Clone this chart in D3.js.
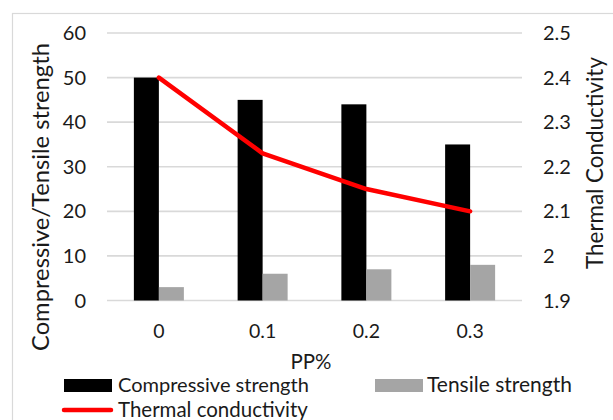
<!DOCTYPE html>
<html>
<head>
<meta charset="utf-8">
<script src="https://cdn.jsdelivr.net/npm/d3@7"></script>
<style>
  html, body { margin: 0; padding: 0; background: #fff; }
  svg { display: block; font-family: Lato, "Liberation Sans", sans-serif; }
</style>
</head>
<body>
<svg id="chart" width="613" height="420"></svg>
<script>
// PP content and measured properties
const categories = ["0", "0.1", "0.2", "0.3"];
const compressive = [50, 45, 44, 35];
const tensile = [3, 6, 7, 8];
const thermal = [2.4, 2.23, 2.15, 2.1];
const leftTicks = [0, 10, 20, 30, 40, 50, 60];
const rightTicks = [1.9, 2.0, 2.1, 2.2, 2.3, 2.4, 2.5];
const rightTickLabels = ["1.9", "2", "2.1", "2.2", "2.3", "2.4", "2.5"];

const svg = d3.select("#chart");
const tickSize = 20;
const textColor = "#1a1a1a";
const gridColor = "#d9d9d9";

// scale a text element's font so it spans the given width
function fitWidth(sel, width) {
  const base = 20;
  sel.attr("font-size", base);
  const w = sel.node().getComputedTextLength();
  if (w > 0) sel.attr("font-size", base * width / w);
  return sel;
}

// outer chart frame
svg.append("rect")
  .attr("x", 12.5).attr("y", 13.5)
  .attr("width", 700).attr("height", 500)
  .attr("fill", "none").attr("stroke", gridColor).attr("stroke-width", 1.2);

const plot = { left: 107, right: 522, top: 33, bottom: 300.5 };

const x = d3.scaleBand().domain(categories).range([plot.left, plot.right]).padding(0);
const yL = d3.scaleLinear().domain([0, 60]).range([plot.bottom, plot.top]);
const yR = d3.scaleLinear().domain([1.9, 2.5]).range([plot.bottom, plot.top]);
const barW = 25;

// horizontal gridlines
svg.append("g").selectAll("line").data(leftTicks).join("line")
  .attr("x1", plot.left).attr("x2", plot.right)
  .attr("y1", d => yL(d)).attr("y2", d => yL(d))
  .attr("stroke", gridColor).attr("stroke-width", 1.6);

// left axis labels
const leftAxis = d3.axisLeft(yL).tickValues(leftTicks).tickSize(0).tickPadding(0).tickFormat(d3.format("d"));
const gL = svg.append("g").attr("transform", "translate(86,0)").call(leftAxis);
gL.select(".domain").remove();
gL.selectAll("text").attr("font-size", tickSize).attr("font-family", "Lato").attr("fill", textColor).attr("dy", "0.33em");

// right axis labels
const rightAxis = d3.axisRight(yR).tickValues(rightTicks).tickSize(0).tickPadding(0)
  .tickFormat((d, i) => rightTickLabels[i]);
const gR = svg.append("g").attr("transform", "translate(543,0)").call(rightAxis);
gR.select(".domain").remove();
gR.selectAll("text").attr("font-size", tickSize).attr("font-family", "Lato").attr("fill", textColor).attr("dy", "0.33em");

// category labels
const bottomAxis = d3.axisBottom(x).tickSize(0).tickPadding(0);
const gB = svg.append("g").attr("transform", "translate(0,338)").call(bottomAxis);
gB.select(".domain").remove();
gB.selectAll("text").attr("font-size", 19.5).attr("font-family", "Lato").attr("fill", textColor)
  .attr("y", 0).attr("dy", "0");

// compressive bars
svg.append("g").selectAll("rect").data(compressive).join("rect")
  .attr("x", (d, i) => x(categories[i]) + x.bandwidth() / 2 - barW)
  .attr("y", d => yL(d))
  .attr("width", barW)
  .attr("height", d => yL(0) - yL(d))
  .attr("fill", "#000");

// tensile bars
svg.append("g").selectAll("rect").data(tensile).join("rect")
  .attr("x", (d, i) => x(categories[i]) + x.bandwidth() / 2)
  .attr("y", d => yL(d))
  .attr("width", barW)
  .attr("height", d => yL(0) - yL(d))
  .attr("fill", "#a5a5a5");

// thermal conductivity line on the secondary axis
const line = d3.line()
  .x((d, i) => x(categories[i]) + x.bandwidth() / 2)
  .y(d => yR(d));
svg.append("path").datum(thermal)
  .attr("d", line)
  .attr("fill", "none").attr("stroke", "#ff0000").attr("stroke-width", 4.5)
  .attr("stroke-linecap", "round").attr("stroke-linejoin", "round");

// axis titles
fitWidth(svg.append("text")
  .attr("transform", "translate(49,197) rotate(-90)")
  .attr("text-anchor", "middle")
  .attr("fill", textColor)
  .text("Compressive/Tensile strength"), 308);
fitWidth(svg.append("text")
  .attr("transform", "translate(603,163) rotate(-90)")
  .attr("text-anchor", "middle")
  .attr("fill", textColor)
  .text("Thermal Conductivity"), 212);
fitWidth(svg.append("text")
  .attr("x", 311).attr("y", 369)
  .attr("text-anchor", "middle")
  .attr("fill", textColor)
  .text("PP%"), 41);

// legend
const legend = svg.append("g");
legend.append("rect").attr("x", 64).attr("y", 379).attr("width", 48).attr("height", 13).attr("fill", "#000");
fitWidth(legend.append("text").attr("x", 118).attr("y", 392).attr("fill", textColor).text("Compressive strength"), 191);
legend.append("rect").attr("x", 375).attr("y", 379).attr("width", 48).attr("height", 13).attr("fill", "#a5a5a5");
fitWidth(legend.append("text").attr("x", 427).attr("y", 392).attr("fill", textColor).text("Tensile strength"), 145);
legend.append("line").attr("x1", 64).attr("x2", 111).attr("y1", 410).attr("y2", 410)
  .attr("stroke", "#ff0000").attr("stroke-width", 4.5).attr("stroke-linecap", "round");
fitWidth(legend.append("text").attr("x", 118).attr("y", 417).attr("fill", textColor).text("Thermal conductivity"), 190);
</script>
</body>
</html>
